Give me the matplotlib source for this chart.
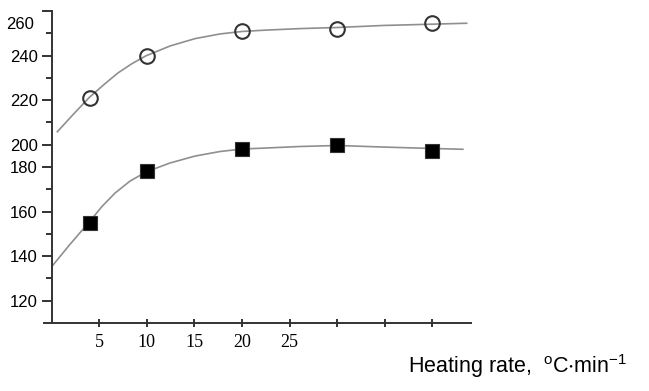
import numpy as np
import matplotlib.pyplot as plt
from matplotlib.ticker import FixedLocator, NullFormatter

plt.rcParams['font.family'] = ['Liberation Sans', 'DejaVu Sans']
plt.rcParams['mathtext.default'] = 'regular'

# measured points
rate = [4, 10, 20, 30, 40]
upper_pts = [221, 240, 251, 252, 254.7]
lower_pts = [155, 178, 196, 200, 194]

# fitted curves
upper_curve_x = [0.6, 2.25, 3.93, 5.5, 6.97, 8.45, 9.92, 12.44, 15.06, 17.69, 19.97, 22.42, 26.1, 30.05, 34.81, 40.14, 43.6]
upper_curve_y = [205.8, 213.5, 221.1, 227.0, 232.2, 236.4, 239.9, 244.3, 247.6, 249.7, 250.8, 251.4, 252.1, 252.6, 253.5, 254.1, 254.5]
lower_curve_x = [0.07, 1.93, 3.93, 5.29, 6.66, 8.24, 9.99, 12.44, 15.06, 17.69, 19.97, 22.42, 26.1, 30.05, 34.81, 40.06, 43.2]
lower_curve_y = [135.6, 145.3, 155.2, 162.3, 168.3, 173.7, 177.9, 183.6, 189.8, 193.9, 196.1, 197.0, 198.4, 199.3, 197.9, 196.6, 195.9]

y_major = [120, 140, 160, 180, 200, 220, 240, 260]
y_minor = [130, 150, 170, 210, 230, 250]
x_ticks = [5, 10, 15, 20, 25, 30, 35, 40]
x_labels = ['5', '10', '15', '20', '25', '', '', '']

# broken-looking y axis of the original: tick values are not evenly spaced
_vals = [110, 120, 140, 160, 180, 200, 220, 240, 260]
_pos = [0, 1, 3, 5, 7, 8, 10, 12, 14]

def fwd(v):
    return np.interp(v, _vals, _pos)

def inv(p):
    return np.interp(p, _pos, _vals)

fig = plt.figure(figsize=(6.49, 3.91), dpi=100)
ax = fig.add_axes([0.0678, 0.1739, 0.6579, 0.798])
ax.set_yscale('function', functions=(fwd, inv))
ax.set_xlim(-0.8, 44.05)
ax.set_ylim(110, 260)

ax.plot(upper_curve_x, upper_curve_y, color='#8f8f8f', lw=1.2, zorder=2)
ax.plot(lower_curve_x, lower_curve_y, color='#8f8f8f', lw=1.2, zorder=2)
ax.plot(rate, upper_pts, 'o', ms=10.5, mfc='none', mec='#333333', mew=1.5, zorder=3)
ax.plot(rate, lower_pts, 's', ms=9.5, mfc='black', mec='#333333', mew=0.8, zorder=3)

for s in ['top', 'right']:
    ax.spines[s].set_visible(False)
ax.spines['left'].set_position(('data', 0))
for s in ['left', 'bottom']:
    ax.spines[s].set_linewidth(1.4)
    ax.spines[s].set_color('#333333')

ax.yaxis.set_major_locator(FixedLocator(y_major))
ax.yaxis.set_minor_locator(FixedLocator(y_minor))
ax.yaxis.set_minor_formatter(NullFormatter())
ax.set_yticklabels(['120', '140', '160', '180', '200', '220', '240', ''])
ax.tick_params(axis='y', which='major', direction='out', length=7, width=1.4,
               color='#333333', labelsize=12, pad=3)
ax.tick_params(axis='y', which='minor', direction='out', length=4, width=1.4, color='#333333')
ax.annotate('260', xy=(0, 260), xytext=(-13, -10), textcoords='offset points',
            ha='right', va='center', fontsize=12)

ax.set_xticks(x_ticks)
ax.set_xticklabels(x_labels, fontfamily='Liberation Serif')
ax.tick_params(axis='x', direction='inout', length=6, width=1.4, color='#333333',
               labelsize=13, pad=5)

fig.text(0.6287, 0.0453, r'Heating rate,  $^{o}$C$\cdot$min$^{-1}$', ha='left', va='baseline',
         fontsize=15.5)

fig.savefig('out.png', dpi=100)
